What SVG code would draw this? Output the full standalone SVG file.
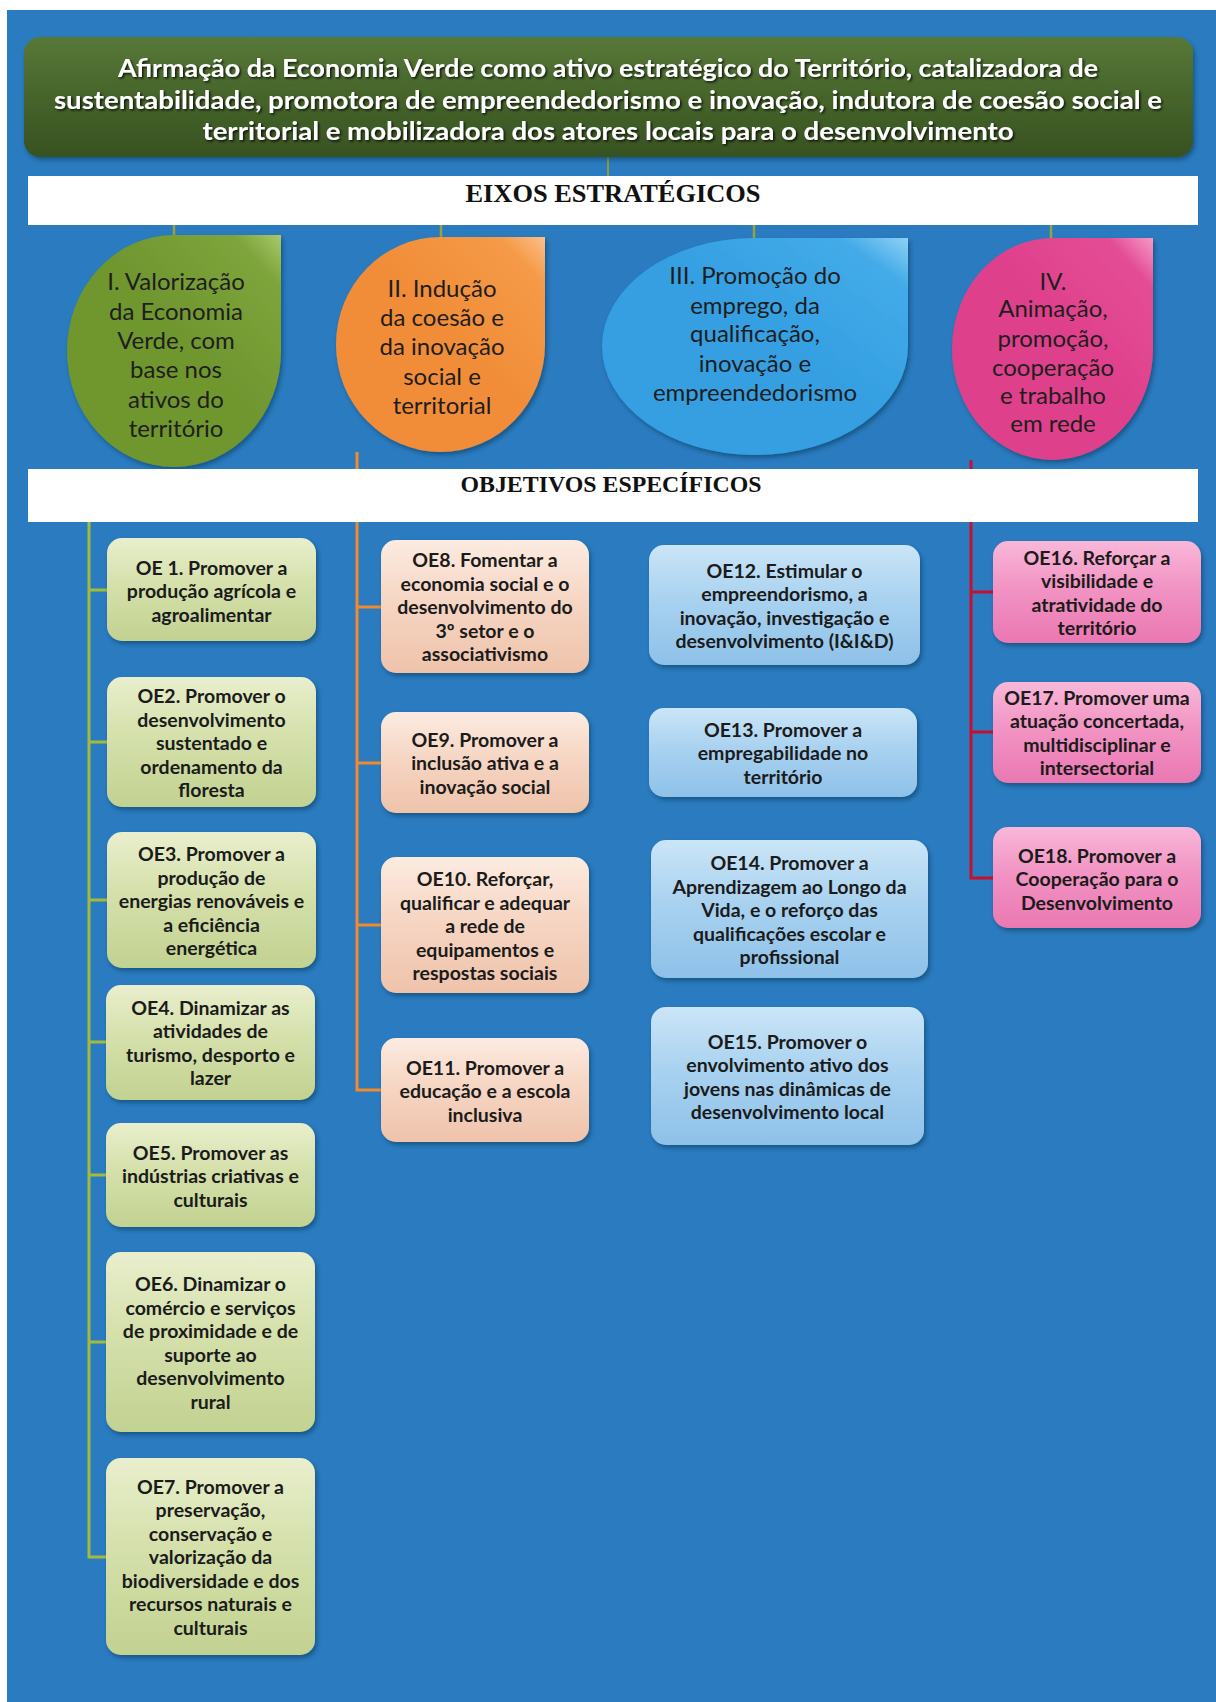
<svg xmlns="http://www.w3.org/2000/svg" width="1216" height="1702" viewBox="0 0 1216 1702">
<defs>
<linearGradient id="gTitle" x1="0" y1="0" x2="0" y2="1"><stop offset="0" stop-color="#587838"/><stop offset="0.5" stop-color="#46642b"/><stop offset="1" stop-color="#385222"/></linearGradient>
<linearGradient id="g1" x1="0" y1="0" x2="0" y2="1"><stop offset="0" stop-color="#e9efcd"/><stop offset="0.45" stop-color="#d5e0ab"/><stop offset="1" stop-color="#c2d291"/></linearGradient>
<linearGradient id="g2" x1="0" y1="0" x2="0" y2="1"><stop offset="0" stop-color="#fcebe1"/><stop offset="0.45" stop-color="#f6d6c4"/><stop offset="1" stop-color="#efc3ab"/></linearGradient>
<linearGradient id="g3" x1="0" y1="0" x2="0" y2="1"><stop offset="0" stop-color="#cbe5f7"/><stop offset="0.45" stop-color="#a9d2f0"/><stop offset="1" stop-color="#8ec1e9"/></linearGradient>
<linearGradient id="g4" x1="0" y1="0" x2="0" y2="1"><stop offset="0" stop-color="#f9b8d8"/><stop offset="0.45" stop-color="#f294c4"/><stop offset="1" stop-color="#ea78b2"/></linearGradient>
<linearGradient id="d1" x1="1" y1="0" x2="0.55" y2="0.45"><stop offset="0" stop-color="#a9c96a"/><stop offset="0.25" stop-color="#7ea43c"/><stop offset="1" stop-color="#6f962f"/></linearGradient>
<linearGradient id="d2" x1="1" y1="0" x2="0.55" y2="0.45"><stop offset="0" stop-color="#fbc08a"/><stop offset="0.25" stop-color="#f59a48"/><stop offset="1" stop-color="#f18d38"/></linearGradient>
<linearGradient id="d3" x1="1" y1="0" x2="0.55" y2="0.45"><stop offset="0" stop-color="#8fd0f5"/><stop offset="0.25" stop-color="#43abe8"/><stop offset="1" stop-color="#349fe2"/></linearGradient>
<linearGradient id="d4" x1="1" y1="0" x2="0.55" y2="0.45"><stop offset="0" stop-color="#f59ac6"/><stop offset="0.25" stop-color="#e44d96"/><stop offset="1" stop-color="#df3f8b"/></linearGradient>
<filter id="sh" x="-10%" y="-10%" width="130%" height="130%"><feDropShadow dx="2" dy="3" stdDeviation="2" flood-color="#0b2a45" flood-opacity="0.45"/></filter>
<filter id="tsh" x="-5%" y="-20%" width="110%" height="150%"><feDropShadow dx="1.5" dy="1.5" stdDeviation="0.8" flood-color="#000" flood-opacity="0.8"/></filter>
</defs>
<style>
.oe rect{filter:url(#sh)}
.oe text{font-family:Lato,"Open Sans",sans-serif;font-weight:700;font-size:19.5px;fill:#1b1b1b;text-anchor:middle;dominant-baseline:central}
.axis path{filter:url(#sh)}
.axis text{font-family:Lato,"Open Sans",sans-serif;font-weight:400;font-size:24px;fill:#1e1e1e;text-anchor:middle;dominant-baseline:central}
.ttl text{font-family:Lato,"Open Sans",sans-serif;font-weight:700;font-size:25px;fill:#ffffff;text-anchor:middle;dominant-baseline:central}
.band rect{fill:#ffffff}
.band text{font-family:"Liberation Serif",serif;font-weight:700;fill:#111111;text-anchor:middle;dominant-baseline:central}
.c1 rect{fill:url(#g1)}
.c2 rect{fill:url(#g2)}
.c3 rect{fill:url(#g3)}
.c4 rect{fill:url(#g4)}
#connectors path{fill:none;stroke-width:3}
</style>
<rect x="0" y="0" width="1216" height="1702" fill="#ffffff"/>
<rect x="7" y="10" width="1209" height="1692" fill="#2a7bbf"/>

<g id="connectors">
<path d="M608,157 V176" stroke="#8d9b3e" style="stroke-width:2"/>
<path d="M174,225 V236 M441,225 V238 M754,225 V239 M1051,225 V239" stroke="#95a43c" style="stroke-width:2.5"/>
<path d="M89,469 V1557 H107 M89,590 H107 M89,742 H107 M89,900 H107 M89,1042 H107 M89,1175 H107 M89,1342 H107" stroke="#a3bb3a"/>
<path d="M357,452 V1090 H381 M357,607 H381 M357,763 H381 M357,925 H381" stroke="#f28a2e"/>
<path d="M971,460 V878 H993 M971,592 H993 M971,732 H993" stroke="#c8102e"/>
</g>

<g id="title" class="ttl">
<rect x="24" y="37" width="1169" height="120" rx="16" fill="url(#gTitle)" filter="url(#sh)"/>
<g filter="url(#tsh)">
<text x="608" y="67" textLength="980" lengthAdjust="spacingAndGlyphs">Afirmação da Economia Verde como ativo estratégico do Território, catalizadora de</text>
<text x="608" y="99" textLength="1108" lengthAdjust="spacingAndGlyphs">sustentabilidade, promotora de empreendedorismo e inovação, indutora de coesão social e</text>
<text x="608" y="130" textLength="811" lengthAdjust="spacingAndGlyphs">territorial e mobilizadora  dos atores locais para o desenvolvimento</text>
</g>
</g>

<g id="band-eixos" class="band">
<rect x="28" y="176" width="1170" height="49"/>
<text x="613" y="193" font-size="25" textLength="295" lengthAdjust="spacingAndGlyphs">EIXOS ESTRATÉGICOS</text>
</g>

<g id="eixo1" class="axis">
<path d="M174,235 L281,235 L281,351 A107,116 0 0 1 174,467 A107,116 0 0 1 67,351 A107,116 0 0 1 174,235 Z" fill="url(#d1)"/>
<text><tspan x="176" y="280">I. Valorização</tspan><tspan x="176" y="309.5">da Economia</tspan><tspan x="176" y="339">Verde, com</tspan><tspan x="176" y="368">base nos</tspan><tspan x="176" y="397.5">ativos do</tspan><tspan x="176" y="427">território</tspan></text>
</g>
<g id="eixo2" class="axis">
<path d="M440.5,237 L545,237 L545,344.5 A104.5,107.5 0 0 1 440.5,452 A104.5,107.5 0 0 1 336,344.5 A104.5,107.5 0 0 1 440.5,237 Z" fill="url(#d2)"/>
<text><tspan x="442" y="287">II. Indução</tspan><tspan x="442" y="316">da coesão e</tspan><tspan x="442" y="345">da inovação</tspan><tspan x="442" y="375">social e</tspan><tspan x="442" y="404">territorial</tspan></text>
</g>
<g id="eixo3" class="axis">
<path d="M755,238 L908,238 L908,346.5 A153,108.5 0 0 1 755,455 A153,108.5 0 0 1 602,346.5 A153,108.5 0 0 1 755,238 Z" fill="url(#d3)"/>
<text><tspan x="755" y="274">III. Promoção do</tspan><tspan x="755" y="304">emprego, da</tspan><tspan x="755" y="332">qualificação,</tspan><tspan x="755" y="362">inovação e</tspan><tspan x="755" y="391">empreendedorismo</tspan></text>
</g>
<g id="eixo4" class="axis">
<path d="M1052.5,238 L1153,238 L1153,349 A100.5,111 0 0 1 1052.5,460 A100.5,111 0 0 1 952,349 A100.5,111 0 0 1 1052.5,238 Z" fill="url(#d4)"/>
<text><tspan x="1053" y="280">IV.</tspan><tspan x="1053" y="307">Animação,</tspan><tspan x="1053" y="337">promoção,</tspan><tspan x="1053" y="366">cooperação</tspan><tspan x="1053" y="394">e trabalho</tspan><tspan x="1053" y="422">em rede</tspan></text>
</g>

<g id="band-objetivos" class="band">
<rect x="28" y="469" width="1170" height="53"/>
<text x="611" y="484" font-size="24" textLength="301" lengthAdjust="spacingAndGlyphs">OBJETIVOS ESPECÍFICOS</text>
</g>

<g id="oe1" class="oe c1"><rect x="107" y="538" width="209" height="103" rx="15"/>
<text><tspan x="211.5" y="566.5">OE 1. Promover a</tspan><tspan x="211.5" y="590">produção agrícola e</tspan><tspan x="211.5" y="613.5">agroalimentar</tspan></text></g>
<g id="oe2" class="oe c1"><rect x="107" y="677" width="209" height="130" rx="15"/>
<text><tspan x="211.5" y="695">OE2. Promover o</tspan><tspan x="211.5" y="718.5">desenvolvimento</tspan><tspan x="211.5" y="742">sustentado e</tspan><tspan x="211.5" y="765.5">ordenamento da</tspan><tspan x="211.5" y="789">floresta</tspan></text></g>
<g id="oe3" class="oe c1"><rect x="107" y="832" width="209" height="136" rx="15"/>
<text><tspan x="211.5" y="853">OE3. Promover a</tspan><tspan x="211.5" y="876.5">produção de</tspan><tspan x="211.5" y="900">energias renováveis e</tspan><tspan x="211.5" y="923.5">a eficiência</tspan><tspan x="211.5" y="947">energética</tspan></text></g>
<g id="oe4" class="oe c1"><rect x="106" y="985" width="209" height="115" rx="15"/>
<text><tspan x="210.5" y="1006.75">OE4. Dinamizar as</tspan><tspan x="210.5" y="1030.25">atividades de</tspan><tspan x="210.5" y="1053.75">turismo, desporto e</tspan><tspan x="210.5" y="1077.25">lazer</tspan></text></g>
<g id="oe5" class="oe c1"><rect x="106" y="1123" width="209" height="104" rx="15"/>
<text><tspan x="210.5" y="1151.5">OE5. Promover as</tspan><tspan x="210.5" y="1175">indústrias criativas e</tspan><tspan x="210.5" y="1198.5">culturais</tspan></text></g>
<g id="oe6" class="oe c1"><rect x="106" y="1252" width="209" height="180" rx="15"/>
<text><tspan x="210.5" y="1283.25">OE6. Dinamizar o</tspan><tspan x="210.5" y="1306.75">comércio e serviços</tspan><tspan x="210.5" y="1330.25">de proximidade e de</tspan><tspan x="210.5" y="1353.75">suporte ao</tspan><tspan x="210.5" y="1377.25">desenvolvimento</tspan><tspan x="210.5" y="1400.75">rural</tspan></text></g>
<g id="oe7" class="oe c1"><rect x="106" y="1458" width="209" height="197" rx="15"/>
<text><tspan x="210.5" y="1485.5">OE7. Promover a</tspan><tspan x="210.5" y="1509">preservação,</tspan><tspan x="210.5" y="1532.5">conservação e</tspan><tspan x="210.5" y="1556">valorização da</tspan><tspan x="210.5" y="1579.5">biodiversidade e dos</tspan><tspan x="210.5" y="1603">recursos naturais e</tspan><tspan x="210.5" y="1626.5">culturais</tspan></text></g>

<g id="oe8" class="oe c2"><rect x="381" y="540" width="208" height="133" rx="15"/>
<text><tspan x="485" y="559">OE8. Fomentar a</tspan><tspan x="485" y="582.5">economia social e o</tspan><tspan x="485" y="606">desenvolvimento do</tspan><tspan x="485" y="629.5">3º setor e o</tspan><tspan x="485" y="653">associativismo</tspan></text></g>
<g id="oe9" class="oe c2"><rect x="381" y="712" width="208" height="101" rx="15"/>
<text><tspan x="485" y="738.5">OE9. Promover a</tspan><tspan x="485" y="762">inclusão ativa e a</tspan><tspan x="485" y="785.5">inovação social</tspan></text></g>
<g id="oe10" class="oe c2"><rect x="381" y="857" width="208" height="136" rx="15"/>
<text><tspan x="485" y="878">OE10. Reforçar,</tspan><tspan x="485" y="901.5">qualificar e adequar</tspan><tspan x="485" y="925">a rede de</tspan><tspan x="485" y="948.5">equipamentos  e</tspan><tspan x="485" y="972">respostas sociais</tspan></text></g>
<g id="oe11" class="oe c2"><rect x="381" y="1038" width="208" height="104" rx="15"/>
<text><tspan x="485" y="1066.5">OE11. Promover a</tspan><tspan x="485" y="1090">educação e a escola</tspan><tspan x="485" y="1113.5">inclusiva</tspan></text></g>

<g id="oe12" class="oe c3"><rect x="649" y="545" width="271" height="120" rx="15"/>
<text><tspan x="784.5" y="569.75">OE12. Estimular o</tspan><tspan x="784.5" y="593.25">empreendorismo, a</tspan><tspan x="784.5" y="616.75">inovação, investigação e</tspan><tspan x="784.5" y="640.25">desenvolvimento (I&amp;I&amp;D)</tspan></text></g>
<g id="oe13" class="oe c3"><rect x="649" y="708" width="268" height="89" rx="15"/>
<text><tspan x="783" y="728.5">OE13. Promover a</tspan><tspan x="783" y="752">empregabilidade no</tspan><tspan x="783" y="775.5">território</tspan></text></g>
<g id="oe14" class="oe c3"><rect x="651" y="840" width="277" height="138" rx="15"/>
<text><tspan x="789.5" y="862">OE14. Promover a</tspan><tspan x="789.5" y="885.5">Aprendizagem ao Longo da</tspan><tspan x="789.5" y="909">Vida, e o reforço das</tspan><tspan x="789.5" y="932.5">qualificações escolar e</tspan><tspan x="789.5" y="956">profissional</tspan></text></g>
<g id="oe15" class="oe c3"><rect x="651" y="1007" width="273" height="138" rx="15"/>
<text><tspan x="787.5" y="1040.75">OE15. Promover o</tspan><tspan x="787.5" y="1064.25">envolvimento ativo dos</tspan><tspan x="787.5" y="1087.75">jovens nas dinâmicas de</tspan><tspan x="787.5" y="1111.25">desenvolvimento local</tspan></text></g>

<g id="oe16" class="oe c4"><rect x="993" y="541" width="208" height="102" rx="15"/>
<text><tspan x="1097" y="556.75">OE16. Reforçar a</tspan><tspan x="1097" y="580.25">visibilidade e</tspan><tspan x="1097" y="603.75">atratividade do</tspan><tspan x="1097" y="627.25">território</tspan></text></g>
<g id="oe17" class="oe c4"><rect x="993" y="682" width="208" height="101" rx="15"/>
<text><tspan x="1097" y="696.75">OE17. Promover uma</tspan><tspan x="1097" y="720.25">atuação concertada,</tspan><tspan x="1097" y="743.75">multidisciplinar e</tspan><tspan x="1097" y="767.25">intersectorial</tspan></text></g>
<g id="oe18" class="oe c4"><rect x="993" y="827" width="208" height="101" rx="15"/>
<text><tspan x="1097" y="854.5">OE18. Promover a</tspan><tspan x="1097" y="878">Cooperação para o</tspan><tspan x="1097" y="901.5">Desenvolvimento</tspan></text></g>
</svg>
